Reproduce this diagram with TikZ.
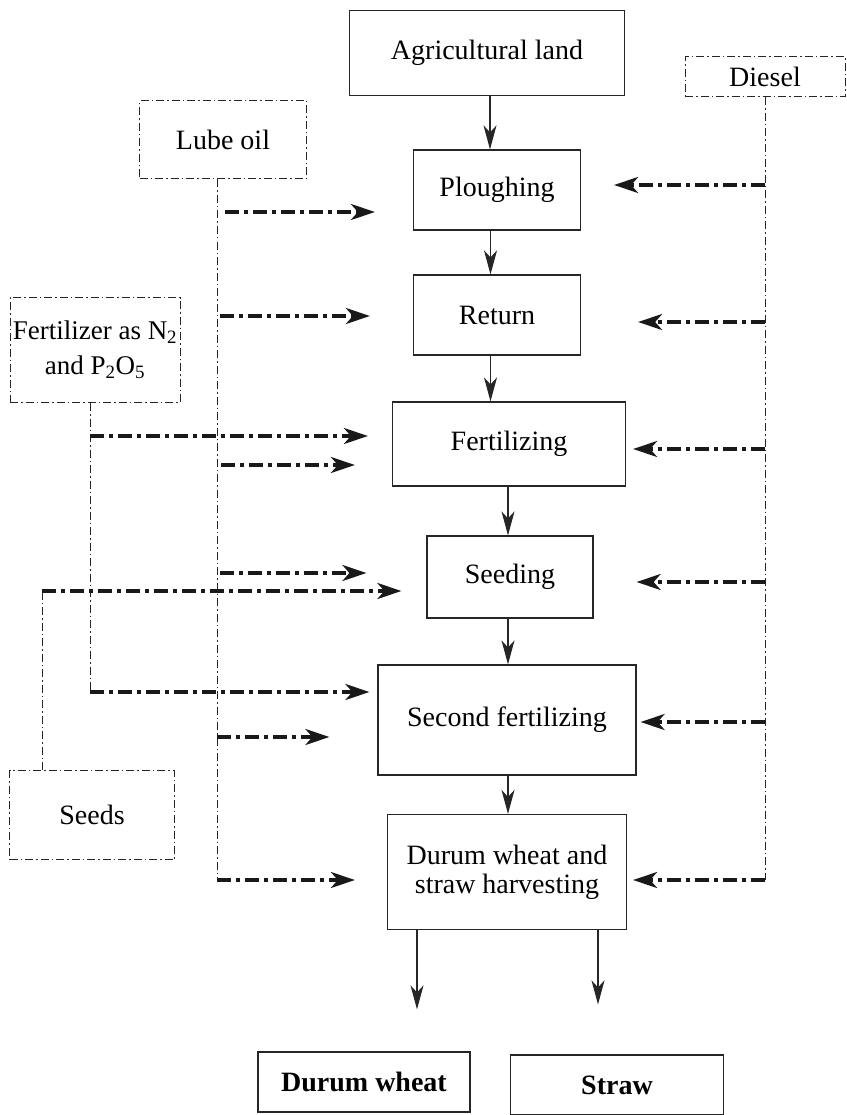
\documentclass[tikz,border=0pt]{standalone}
\usepackage{fontspec}
\setmainfont{Liberation Serif}
\usetikzlibrary{arrows.meta,calc}

\begin{document}
\begin{tikzpicture}[
	x=1pt,y=-1pt,
	every node/.style={font=\fontsize{28}{29}\selectfont,align=center,inner sep=0pt},
	box/.style 2 args={draw=black!85,line width=1.2pt,minimum width=#1,minimum height=#2},
	inbox/.style 2 args={box={#1}{#2},line width=1pt,dash pattern=on 8pt off 3pt on 1.5pt off 3pt},
	flow/.style={draw=black!85,line width=1.2pt,-{Stealth[length=24pt,width=13pt,inset=7pt]}},
	feed/.style={draw=black!90,line width=3.4pt,dash pattern=on 14pt off 5pt on 4pt off 5pt,-{Stealth[length=24pt,width=16pt,inset=7pt]}},
	supply/.style={draw=black!85,line width=1pt,dash pattern=on 8pt off 3pt on 1.5pt off 3pt}
]
\useasboundingbox (0,0) rectangle (846,1115);
%\draw[step=50,black!10] (0,0) grid (846,1115);
% process chain
\node[box={275}{85}] (agri) at (487,53) {Agricultural land};
\node[box={167}{80}] (plough) at (497,190) {Ploughing};
\node[box={167}{80}] (return) at (497,315) {Return};
\node[box={233}{84}] (fertilizing) at (509,444) {Fertilizing};
\node[box={166}{82}] (seeding) at (510,577) {Seeding};
\node[box={258}{110}] (second) at (507,720) {Second fertilizing};
\node[box={239}{115}] (harvest) at (507,872) {Durum wheat and\\straw harvesting};
\node[box={212}{60}] (durum) at (364,1082) {\textbf{Durum wheat}};
\node[box={213}{60}] (straw) at (617,1085) {\textbf{Straw}};
% inputs
\node[inbox={160}{40}] (diesel) at (765,77) {Diesel};
\node[inbox={167}{78}] (lube) at (223,140) {Lube oil};
\node[inbox={170}{105},font=\fontsize{27}{28}\selectfont] (fert) at (95,350) {Fertilizer as N\textsubscript{2}\\[7pt]and P\textsubscript{2}O\textsubscript{5}};
\node[inbox={165}{89}] (seeds) at (92,815) {Seeds};

\draw[flow] ([xshift=3pt]agri.south) -- ([xshift=3pt]agri.south |- plough.north);
\draw[flow] ([xshift=-6.5pt]plough.south) -- ([xshift=-6.5pt]plough.south |- return.north);
\draw[flow] ([xshift=-6.5pt]return.south) -- ([xshift=-6.5pt]return.south |- fertilizing.north);
\draw[flow] ([xshift=-1pt]fertilizing.south) -- ([xshift=-1pt]fertilizing.south |- seeding.north);
\draw[flow] ([xshift=-2pt]seeding.south) -- ([xshift=-2pt]seeding.south |- second.north);
\draw[flow] ([xshift=1pt]second.south) -- ([xshift=1pt]second.south |- harvest.north);
\draw[flow] ($(harvest.south)+(-90,0)$) -- ($(durum.north)+(53,-42)$);
\draw[flow] ($(harvest.south)+(91,0)$) -- ($(straw.north)+(-19,-50)$);

% lube oil
\coordinate (lubeline) at ($(lube.south)+(-6,0)$);
\coordinate (lubeend) at ($(harvest.west)+(-32,8)$);
\draw[supply] (lubeline) -- (lubeline |- lubeend);
\draw[feed] ($(lubeline |- plough.west)+(8,22)$) -- ($(plough.west)+(-38,22)$);
\draw[feed] ($(lubeline |- return.west)+(3,1)$) -- ($(return.west)+(-43,1)$);
\draw[feed] ($(lubeline |- fertilizing.west)+(4,21)$) -- ($(fertilizing.west)+(-37,21)$);
\draw[feed] ($(lubeline |- seeding.west)+(3,-4)$) -- ($(seeding.west)+(-60,-4)$);
\draw[feed] ($(lubeline |- second.west)+(0,17)$) -- ($(second.west)+(-48,17)$);
\draw[feed] (lubeline |- lubeend) -- (lubeend);

% fertilizer
\coordinate (fertline) at ($(fert.south)+(-5,0)$);
\coordinate (fertA) at ($(fertilizing.west)+(-24,-8)$);
\coordinate (fertB) at ($(second.west)+(-8,-28)$);
\draw[supply] (fertline) -- (fertline |- fertB);
\draw[feed] (fertline |- fertA) -- (fertA);
\draw[feed] (fertline |- fertB) -- (fertB);

% seeds
\coordinate (seedsline) at ($(seeds.north)+(-50,0)$);
\coordinate (seedsend) at ($(seeding.west)+(-25,14)$);
\draw[supply] (seedsline) -- (seedsline |- seedsend);
\draw[feed] (seedsline |- seedsend) -- (seedsend);

% diesel
\coordinate (dieselline) at (diesel.south);
\coordinate (dieselend) at ($(harvest.east)+(6,8)$);
\draw[supply] (dieselline) -- (dieselline |- dieselend);
\draw[feed] ($(dieselline |- plough.east)+(0,-5)$) -- ($(plough.east)+(33,-5)$);
\draw[feed] ($(dieselline |- return.east)+(0,7)$) -- ($(return.east)+(57,7)$);
\draw[feed] ($(dieselline |- fertilizing.east)+(0,5)$) -- ($(fertilizing.east)+(7,5)$);
\draw[feed] ($(dieselline |- seeding.east)+(0,5)$) -- ($(seeding.east)+(43,5)$);
\draw[feed] ($(dieselline |- second.east)+(0,2)$) -- ($(second.east)+(4,2)$);
\draw[feed] (dieselline |- dieselend) -- (dieselend);
\end{tikzpicture}
\end{document}
